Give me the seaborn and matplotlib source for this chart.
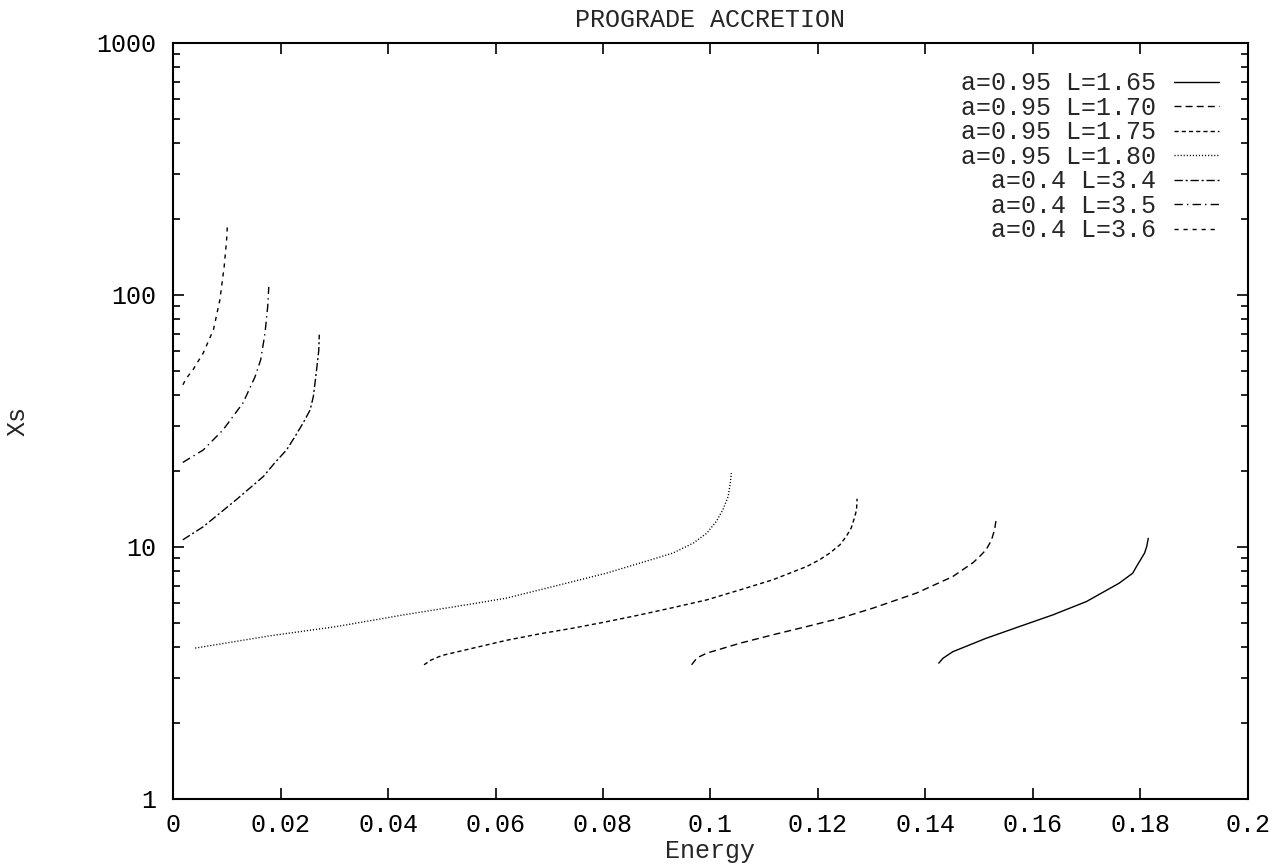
import matplotlib
matplotlib.use("Agg")
import matplotlib.pyplot as plt
import matplotlib.ticker as mticker
import seaborn as sns

e_a95_l165 = [0.1425, 0.1433, 0.1451, 0.1513, 0.1575, 0.1637, 0.1700, 0.1761, 0.1786, 0.1793,
              0.1808, 0.1812, 0.1815]
x_a95_l165 = [3.45, 3.61, 3.83, 4.33, 4.82, 5.36, 6.06, 7.17, 7.85, 8.34,
              9.43, 10.0, 10.8]

e_a95_l170 = [0.0965, 0.0975, 0.0993, 0.1055, 0.1116, 0.1179, 0.1241, 0.1302, 0.1383, 0.1451,
              0.1489, 0.1501, 0.1513, 0.1523, 0.1529, 0.1532]
x_a95_l170 = [3.40, 3.62, 3.78, 4.14, 4.47, 4.82, 5.20, 5.70, 6.54, 7.61,
              8.65, 9.14, 9.72, 10.6, 11.7, 12.9]

e_a95_l175 = [0.0467, 0.0480, 0.0500, 0.0552, 0.0620, 0.0682, 0.0744, 0.0807, 0.0868, 0.0930, 0.0993,
              0.1055, 0.1116, 0.1179, 0.1203, 0.1222, 0.1241, 0.1253, 0.1262, 0.1268, 0.1272, 0.1273]
x_a95_l175 = [3.40, 3.55, 3.70, 3.93, 4.25, 4.51, 4.75, 5.04, 5.36, 5.73, 6.15,
              6.74, 7.39, 8.34, 8.87, 9.43, 10.17, 11.0, 11.85, 13.0, 14.0, 15.5]

e_a95_l180 = [0.0041, 0.0180, 0.0304, 0.0428, 0.0552, 0.0620, 0.0682, 0.0744, 0.0807, 0.0868,
              0.0930, 0.0968, 0.0993, 0.1011, 0.1023, 0.1033, 0.1037, 0.1039]
x_a95_l180 = [3.96, 4.43, 4.82, 5.36, 5.91, 6.25, 6.74, 7.27, 7.86, 8.60,
              9.43, 10.33, 11.3, 12.6, 14.0, 15.8, 17.9, 19.6]

e_a4_l34 = [0.0018, 0.0056, 0.0118, 0.0168, 0.0189, 0.0211, 0.0227, 0.0242, 0.0255, 0.0261,
            0.0267, 0.0271, 0.0272]
x_a4_l34 = [10.65, 12.0, 15.4, 19.0, 21.5, 24.2, 27.4, 31.0, 34.9, 39.5,
            50.4, 60.0, 69.4]

e_a4_l35 = [0.0018, 0.0056, 0.0093, 0.0130, 0.0152, 0.0163, 0.0171, 0.0176, 0.0178]
x_a4_l35 = [21.6, 24.2, 29.1, 37.2, 47.0, 55.2, 70.5, 89.9, 107.4]

e_a4_l36 = [0.0018, 0.0025, 0.0037, 0.0056, 0.0075, 0.0087, 0.0095, 0.00995, 0.0101]
x_a4_l36 = [43.9, 46.7, 50.4, 58.7, 72.6, 95.5, 129.5, 165.0, 190.0]

labels = ["a=0.95 L=1.65", "a=0.95 L=1.70", "a=0.95 L=1.75", "a=0.95 L=1.80",
          "a=0.4 L=3.4", "a=0.4 L=3.5", "a=0.4 L=3.6"]
energies = [e_a95_l165, e_a95_l170, e_a95_l175, e_a95_l180, e_a4_l34, e_a4_l35, e_a4_l36]
xs_vals = [x_a95_l165, x_a95_l170, x_a95_l175, x_a95_l180, x_a4_l34, x_a4_l35, x_a4_l36]

x_ticks = [0, 0.02, 0.04, 0.06, 0.08, 0.1, 0.12, 0.14, 0.16, 0.18, 0.2]
y_ticks = [1, 10, 100, 1000]

styles = [
    "-",
    (0, (5, 3)),
    (0, (3, 2.2)),
    (0, (0.8, 1.4)),
    (0, (6, 2, 1.5, 2)),
    (0, (6, 3, 1, 3)),
    (0, (3, 3.5)),
]

FS = 18

sns.set_theme(style="ticks")
plt.rcParams['font.family'] = ['Liberation Mono', 'DejaVu Sans Mono']
plt.rcParams['font.size'] = FS

fig = plt.figure(figsize=(12.76, 8.66), dpi=100)
ax = fig.add_axes([0.1357, 0.0777, 0.9778 - 0.1357, 0.9507 - 0.0777])

# pad labels so the monospaced text lines up on the right
width = max(len(s) for s in labels)
for e, x, lab, ls in zip(energies, xs_vals, labels, styles):
    sns.lineplot(x=e, y=x, ax=ax, color="black", linewidth=1.0, linestyle=ls,
                 sort=False, estimator=None, label=lab.rjust(width))

ax.set_yscale("log")
ax.set_xlim(0, 0.2)
ax.set_ylim(1, 1000)
ax.set_xticks(x_ticks)
ax.xaxis.set_major_formatter(mticker.FuncFormatter(lambda v, p: "%g" % v))
ax.set_yticks(y_ticks)
ax.yaxis.set_major_formatter(mticker.FuncFormatter(lambda v, p: "%g" % v))
ax.yaxis.set_minor_locator(mticker.LogLocator(base=10, subs=range(2, 10)))
ax.yaxis.set_minor_formatter(mticker.NullFormatter())
ax.xaxis.set_minor_locator(mticker.NullLocator())

ax.tick_params(which="both", direction="in", top=True, right=True, colors="black",
               labelsize=FS)
ax.tick_params(axis="x", pad=10)
ax.tick_params(axis="y", pad=12)
ax.tick_params(which="major", length=8, width=1.2)
ax.tick_params(which="minor", length=5, width=1.2)
for sp in ax.spines.values():
    sp.set_visible(True)
    sp.set_linewidth(1.5)
    sp.set_color("black")

ax.set_title("PROGRADE ACCRETION", fontsize=FS, pad=11)
ax.set_xlabel("Energy", fontsize=FS, labelpad=2)
ax.set_ylabel("Xs", fontsize=FS, labelpad=48)

leg = ax.legend(loc="upper right", frameon=False, markerfirst=False, fontsize=FS,
                handlelength=1.8, handletextpad=0.72, labelspacing=0.02,
                borderaxespad=0.75)

plt.savefig("out.png", dpi=100)
plt.close()
